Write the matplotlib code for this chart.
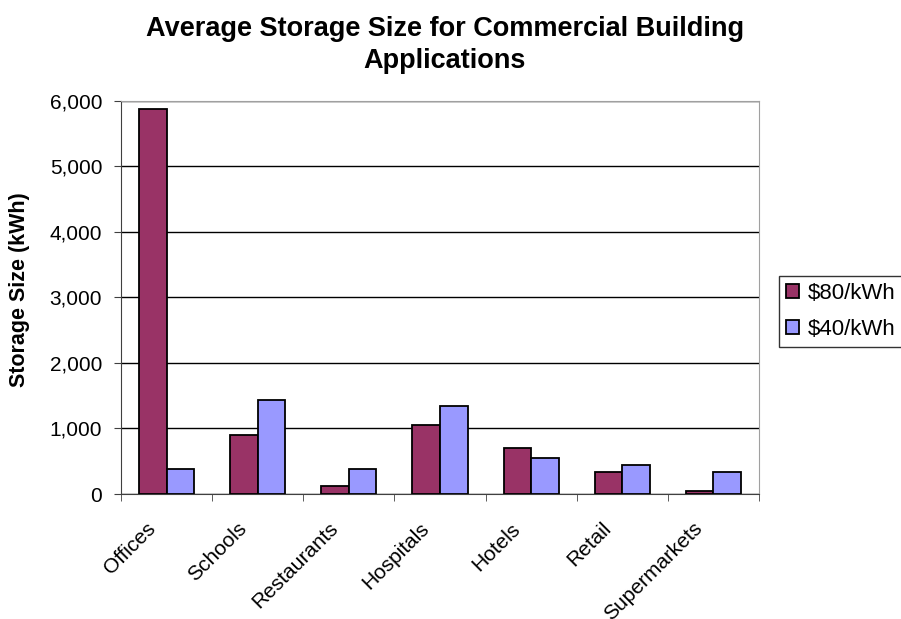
import matplotlib
matplotlib.use("Agg")
import matplotlib.pyplot as plt
import matplotlib.transforms as mtransforms
from matplotlib.ticker import FuncFormatter
import numpy as np

categories = ["Offices", "Schools", "Restaurants", "Hospitals", "Hotels", "Retail", "Supermarkets"]
series_80 = [5870, 900, 120, 1050, 700, 330, 50]
series_40 = [380, 1430, 380, 1350, 550, 450, 330]
series_names = ["$80/kWh", "$40/kWh"]
y_ticks = [0, 1000, 2000, 3000, 4000, 5000, 6000]

plt.rcParams['font.family'] = ['Liberation Sans', 'DejaVu Sans']

fig = plt.figure(figsize=(9.01, 6.19), dpi=100)
ax = fig.add_axes([121/901, 1-494/619, (759-121)/901, (494-100.7)/619])

x = np.arange(len(categories))
w = 1/3.3
ax.bar(x - w/2, series_80, width=w, color="#993366", edgecolor="black", linewidth=1.3, label=series_names[0], zorder=3)
ax.bar(x + w/2, series_40, width=w, color="#9999FF", edgecolor="black", linewidth=1.3, label=series_names[1], zorder=3)

ax.set_xlim(-0.5, len(categories) - 0.5)
ax.set_ylim(0, 6000)
ax.set_yticks(y_ticks)
ax.yaxis.set_major_formatter(FuncFormatter(lambda v, p: f"{int(v):,}"))
ax.grid(axis='y', color='black', linewidth=1, zorder=0)
ax.set_axisbelow(True)

ax.set_xticks(x)
ax.set_xticks(np.arange(-0.5, len(categories), 1), minor=True)
ax.tick_params(axis='x', which='major', length=0, pad=2)
ax.tick_params(axis='x', which='minor', length=5, direction='out', color='#404040')
ax.tick_params(axis='y', length=5, direction='out', color='#404040', labelsize=15, pad=8.5)
ax.set_xticklabels(categories, rotation=45, ha='right', rotation_mode='anchor', fontsize=15)
offset = mtransforms.ScaledTranslation(-15/72, -16/72, fig.dpi_scale_trans)
for lab in ax.get_xticklabels():
    lab.set_transform(lab.get_transform() + offset)

for s in ['top', 'right']:
    ax.spines[s].set_color('#a0a0a0')
ax.spines['left'].set_color('#404040')
ax.spines['bottom'].set_color('#404040')

ax.set_ylabel("Storage Size (kWh)", fontsize=15.5, fontweight='bold')
ax.yaxis.set_label_coords(-0.1426, 0.52)

fig.text(445/901, 1-44.5/619, "Average Storage Size for Commercial Building\nApplications",
         ha='center', va='center', fontsize=19.5, fontweight='bold', linespacing=1.3)

leg = fig.legend(loc='upper left', bbox_to_anchor=(779/901, 1-276/619), fontsize=16,
                 frameon=True, fancybox=False, edgecolor='black', handlelength=0.6,
                 handleheight=0.6, handletextpad=0.4, borderpad=0.3, labelspacing=0.7,
                 borderaxespad=0)
leg.get_frame().set_linewidth(1)

fig.savefig("out.png", dpi=100)
